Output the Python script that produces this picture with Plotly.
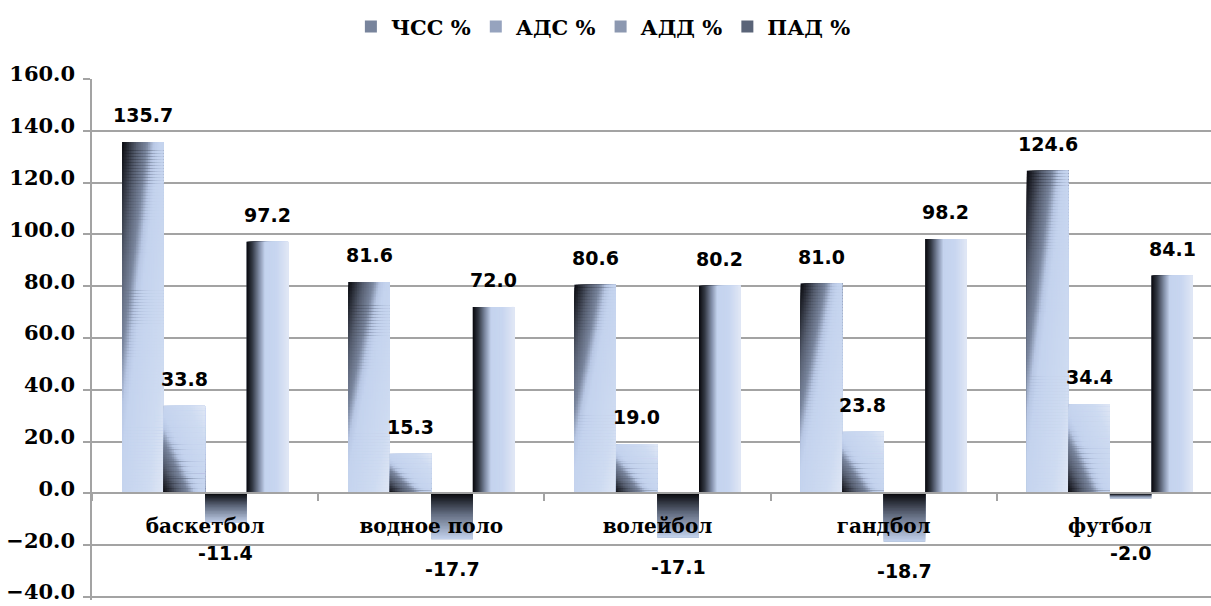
import math
import plotly.graph_objects as go

# ---- data -------------------------------------------------------------
categories = ["баскетбол", "водное поло", "волейбол", "гандбол", "футбол"]
series_names = ["ЧСС %", "АДС %", "АДД %", "ПАД %"]
chss = [135.7, 81.6, 80.6, 81.0, 124.6]
ads = [33.8, 15.3, 19.0, 23.8, 34.4]
add = [-11.4, -17.7, -17.1, -18.7, -2.0]
pad = [97.2, 72.0, 80.2, 98.2, 84.1]
y_ticks = [-40, -20, 0, 20, 40, 60, 80, 100, 120, 140, 160]

# ---- layout constants -------------------------------------------------
W, H = 1211, 606
M_L, M_R, M_T, M_B = 92, 0, 79, 6
Y_MIN, Y_MAX = -40, 160
# leave a few px of room under the lowest grid line so it is not clipped
PLOT_H = H - M_T - M_B
PAD_PX = 3
Y_PAD = PAD_PX * (Y_MAX - Y_MIN) / (PLOT_H - PAD_PX)
PX_PER_UNIT = PLOT_H / (Y_MAX - Y_MIN + Y_PAD)
BAR_W = 0.1835          # width of one bar, in category units
GROUP_LEFT = -2 * BAR_W  # left edge of the 4-bar group
X_RANGE = [-0.5, 4.447]

GRID = "#a3a3a3"
SERIF = "DejaVu Serif"
SANS = "DejaVu Sans"

BLACK = (8, 8, 12)
GREY = (98, 108, 128)
LIGHT = (196, 211, 238)
PALE = (224, 231, 245)

# gradient colour stops per series: (t, rgb)
STOPS_DIAG = [(0.0, BLACK), (0.18, (86, 94, 112)), (0.3, (122, 134, 158)),
              (0.38, (184, 199, 228)), (0.45, LIGHT), (0.8, (206, 219, 241)), (1.0, PALE)]
STOPS_VERT = [(0.0, BLACK), (0.45, GREY), (1.0, LIGHT)]
STOPS_HORZ = [(0.0, BLACK), (0.14, (52, 58, 70)), (0.3, (128, 140, 165)),
              (0.44, LIGHT), (0.72, (200, 214, 240)), (1.0, PALE)]


def lerp_color(stops, t):
    t = min(max(t, 0.0), 1.0)
    for (t0, c0), (t1, c1) in zip(stops[:-1], stops[1:]):
        if t <= t1:
            f = 0 if t1 == t0 else (t - t0) / (t1 - t0)
            rgb = [round(a + (b - a) * f) for a, b in zip(c0, c1)]
            return "rgb({},{},{})".format(*rgb)
    return "rgb({},{},{})".format(*stops[-1][1])


def gradient_trace(name, values, slot, stops, shade, nu, row_px, swatch):
    """One bar trace per series; each bar is painted as nested rectangles
    (far-end / right-side cells drawn last) to build a smooth gradient."""
    xs, ys, offs, widths, cols = [], [], [], [], []
    left = GROUP_LEFT + slot * BAR_W
    # full-size bar first: gives the legend swatch, hidden under the cells
    for cat, v in zip(categories, values):
        xs.append(cat); ys.append(v); offs.append(left); widths.append(BAR_W); cols.append(swatch)
    for cat, v in zip(categories, values):
        nv = max(1, math.ceil(abs(v) * PX_PER_UNIT / row_px)) if row_px else 1
        for j in range(nv):
            for k in range(nu):
                u0 = k / nu
                uc = (k + 0.5) / nu
                vc = (j + 0.5) / nv  # measured from the bar's far end
                xs.append(cat)
                ys.append(v * (1 - j / nv))
                offs.append(left + u0 * BAR_W)
                widths.append(BAR_W * (1 - u0))
                cols.append(lerp_color(stops, shade(uc, vc)))
    return go.Bar(
        name=name, x=xs, y=ys, offset=offs, width=widths,
        marker=dict(color=cols, line=dict(width=0)),
        hoverinfo="skip",
    )


fig = go.Figure()
fig.add_trace(gradient_trace(series_names[0], chss, 0, STOPS_DIAG,
                             lambda u, v: (u + v) / 2, 24, 3, "rgb(120,132,156)"))
fig.add_trace(gradient_trace(series_names[1], ads, 1, STOPS_DIAG,
                             lambda u, v: (u + (1 - v)) / 2, 24, 2.5, "rgb(150,163,190)"))
fig.add_trace(gradient_trace(series_names[2], add, 2, STOPS_VERT,
                             lambda u, v: 1 - v, 1, 1.5, "rgb(140,152,176)"))
fig.add_trace(gradient_trace(series_names[3], pad, 3, STOPS_HORZ,
                             lambda u, v: u, 42, 0, "rgb(90,100,120)"))

# ---- value labels -----------------------------------------------------
annotations = []
for slot, vals in enumerate([chss, ads, add, pad]):
    for ci, v in enumerate(vals):
        x = ci + GROUP_LEFT + (slot + 0.5) * BAR_W
        if v >= 0:
            shift = 27
        else:
            # keep negative labels clear of the category names
            shift = -max(abs(v) * PX_PER_UNIT + 29.5, 60) + abs(v) * PX_PER_UNIT
        annotations.append(dict(
            x=x, y=v, xref="x", yref="y", text=f"{v:.1f}",
            showarrow=False, yshift=shift, yanchor="middle",
            font=dict(family=SANS, size=19, color="#000000", weight="bold"),
        ))

fig.update_layout(
    width=W, height=H,
    margin=dict(l=M_L, r=M_R, t=M_T, b=M_B, pad=0, autoexpand=False),
    paper_bgcolor="white", plot_bgcolor="white",
    barmode="overlay",
    annotations=annotations,
    legend=dict(
        orientation="h", x=0.457, xanchor="center", y=1.1, yanchor="middle",
        font=dict(family=SERIF, size=21, color="#000000", weight="bold"),
        itemwidth=30, traceorder="normal", itemclick=False, itemdoubleclick=False,
    ),
    xaxis=dict(
        type="category", categoryorder="array", categoryarray=categories,
        range=X_RANGE, anchor="free", automargin=False,
        position=(0 - Y_MIN + Y_PAD) / (Y_MAX - Y_MIN + Y_PAD),
        showline=True, linecolor=GRID, linewidth=1.5,
        ticks="outside", ticklen=7, tickcolor=GRID, tickwidth=1.5,
        tickson="boundaries", showgrid=False, zeroline=False,
        ticklabelstandoff=15,
        tickfont=dict(family=SERIF, size=20, color="#000000", weight="bold"),
    ),
    yaxis=dict(
        range=[Y_MIN - Y_PAD, Y_MAX], tickvals=y_ticks, tickformat=".1f",
        automargin=False,
        showgrid=True, gridcolor=GRID, gridwidth=1.5,
        zeroline=True, zerolinecolor=GRID, zerolinewidth=1.5,
        showline=True, linecolor=GRID, linewidth=1.5,
        ticks="outside", ticklen=7, tickcolor=GRID, tickwidth=1.5,
        ticklabelstandoff=4, ticklabelshift=-5, ticklabeloverflow="allow",
        tickfont=dict(family=SERIF, size=21, color="#000000", weight="bold"),
    ),
)

fig.write_html("out.html")
